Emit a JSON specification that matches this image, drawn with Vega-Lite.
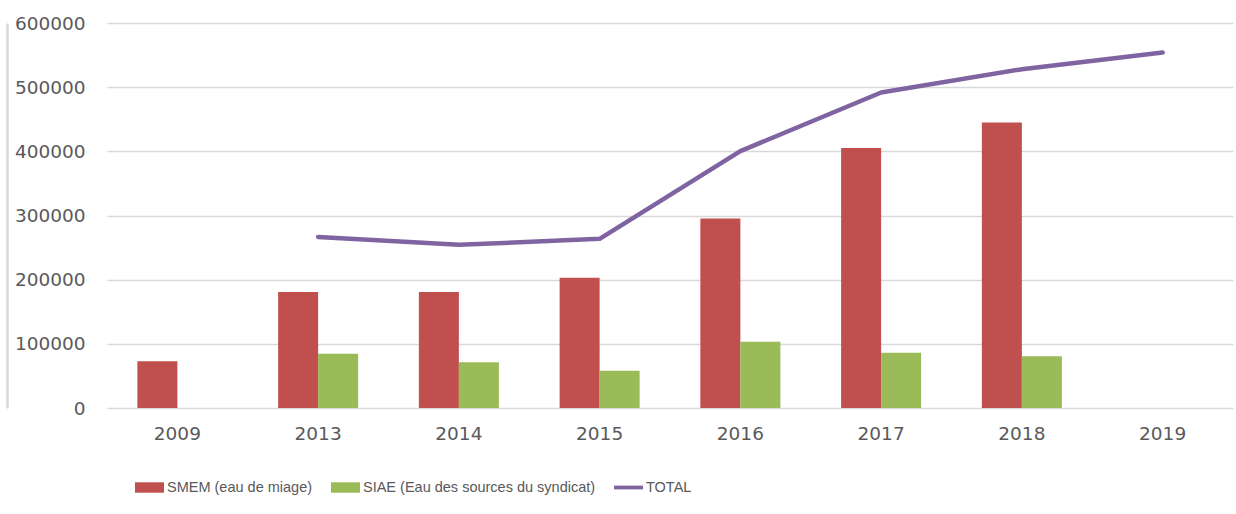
{
  "$schema": "https://vega.github.io/schema/vega-lite/v6.json",
  "width": 1126,
  "height": 385,
  "autosize": {"type": "none"},
  "padding": {"left": 107, "top": 23, "right": 3, "bottom": 106},
  "background": "white",
  "config": {"view": {"stroke": null}, "font": "DejaVu Sans"},
  "datasets": {
    "bars": [
      {"year": "2009", "series": "SMEM (eau de miage)", "value": 73000},
      {"year": "2013", "series": "SMEM (eau de miage)", "value": 180700},
      {"year": "2013", "series": "SIAE (Eau des sources du syndicat)", "value": 84500},
      {"year": "2014", "series": "SMEM (eau de miage)", "value": 180600},
      {"year": "2014", "series": "SIAE (Eau des sources du syndicat)", "value": 71200},
      {"year": "2015", "series": "SMEM (eau de miage)", "value": 202800},
      {"year": "2015", "series": "SIAE (Eau des sources du syndicat)", "value": 58200},
      {"year": "2016", "series": "SMEM (eau de miage)", "value": 295300},
      {"year": "2016", "series": "SIAE (Eau des sources du syndicat)", "value": 103400},
      {"year": "2017", "series": "SMEM (eau de miage)", "value": 405300},
      {"year": "2017", "series": "SIAE (Eau des sources du syndicat)", "value": 86100},
      {"year": "2018", "series": "SMEM (eau de miage)", "value": 445000},
      {"year": "2018", "series": "SIAE (Eau des sources du syndicat)", "value": 80800}
    ],
    "total": [
      {"year": "2013", "series": "TOTAL", "value": 266500},
      {"year": "2014", "series": "TOTAL", "value": 254300},
      {"year": "2015", "series": "TOTAL", "value": 263600},
      {"year": "2016", "series": "TOTAL", "value": 400300},
      {"year": "2017", "series": "TOTAL", "value": 491700},
      {"year": "2018", "series": "TOTAL", "value": 528000},
      {"year": "2019", "series": "TOTAL", "value": 554000}
    ]
  },
  "layer": [
    {
      "data": {"name": "bars"},
      "mark": {"type": "bar"},
      "encoding": {
        "x": {
          "field": "year",
          "type": "nominal",
          "scale": {"domain": ["2009", "2013", "2014", "2015", "2016", "2017", "2018", "2019"], "paddingInner": 0, "paddingOuter": 0},
          "axis": {
            "title": null,
            "labelAngle": 0,
            "domain": false,
            "ticks": false,
            "grid": false,
            "labelFont": "DejaVu Sans",
            "labelFontSize": 18.5,
            "labelColor": "#595959",
            "labelPadding": 16
          }
        },
        "xOffset": {
          "field": "series",
          "type": "nominal",
          "scale": {"domain": ["SMEM (eau de miage)", "SIAE (Eau des sources du syndicat)"], "paddingInner": 0, "paddingOuter": 0.759}
        },
        "y": {
          "field": "value",
          "type": "quantitative",
          "scale": {"domain": [0, 600000], "nice": false},
          "axis": {
            "title": null,
            "values": [0, 100000, 200000, 300000, 400000, 500000, 600000],
            "format": "d",
            "offset": 100,
            "domain": true,
            "domainColor": "#d9d9d9",
            "domainWidth": 2.5,
            "ticks": false,
            "grid": true,
            "gridColor": "#d9d9d9",
            "gridWidth": 1.5,
            "labelFont": "DejaVu Sans",
            "labelFontSize": 18.5,
            "labelColor": "#595959",
            "labelAlign": "right",
            "labelPadding": -78
          }
        },
        "color": {
          "field": "series",
          "type": "nominal",
          "scale": {
            "domain": ["SMEM (eau de miage)", "SIAE (Eau des sources du syndicat)", "TOTAL"],
            "range": ["#C0504D", "#9BBB59", "#8064A2"]
          },
          "legend": {
            "title": null,
            "orient": "none",
            "legendX": 28,
            "legendY": 450,
            "direction": "horizontal",
            "columns": 3,
            "columnPadding": 18,
            "labelOffset": 3,
            "symbolSize": 841,
            "labelFont": "Liberation Sans",
            "labelFontSize": 14.5,
            "labelColor": "#595959",
            "labelLimit": 400,
            "encode": {
              "symbols": {
                "update": {
                  "shape": {"signal": "datum.label === 'TOTAL' ? 'M-1,-0.13H1V0.13H-1Z' : 'M-1,-0.36H1V0.36H-1Z'"},
                  "fill": {"scale": "color", "field": "value"},
                  "strokeWidth": {"value": 0},
                  "opacity": {"value": 1}
                }
              }
            }
          }
        }
      }
    },
    {
      "data": {"name": "total"},
      "mark": {"type": "line", "strokeWidth": 4.5, "strokeCap": "round", "strokeJoin": "round"},
      "encoding": {
        "x": {"field": "year", "type": "nominal"},
        "y": {"field": "value", "type": "quantitative"},
        "color": {"field": "series", "type": "nominal"}
      }
    }
  ]
}
